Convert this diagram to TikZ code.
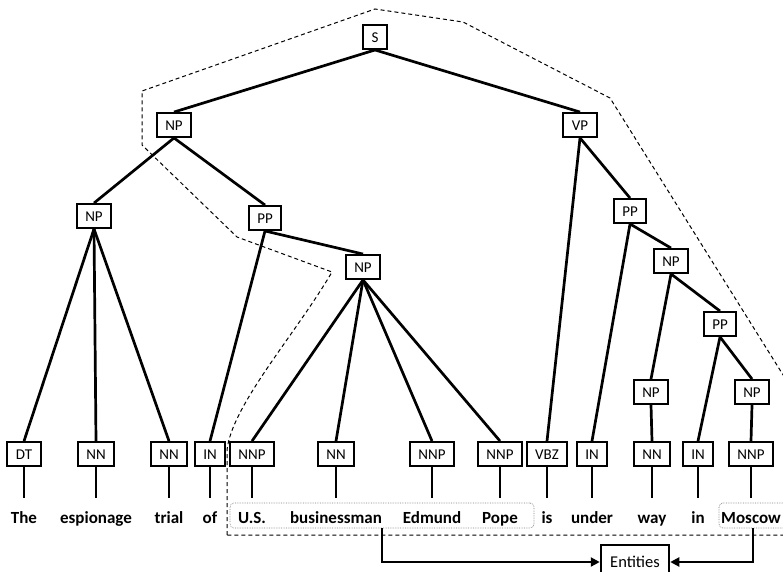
\documentclass[tikz,border=0pt]{standalone}
\usepackage{fontspec}
\setmainfont{Carlito}
\usetikzlibrary{arrows.meta}
\begin{document}
\begin{tikzpicture}[
x=1pt, y=-1pt,
tag/.style={draw, line width=1.9pt, inner xsep=8.5pt, inner ysep=0pt,
    minimum height=24pt, text height=10pt, text depth=0pt,
    font=\fontsize{15}{17}\selectfont},
word/.style={inner sep=0pt, anchor=base, text height=12pt, text depth=4pt,
    outer ysep=13pt, font=\bfseries\fontsize{17}{20}\selectfont},
edge/.style={line width=2.7pt},
entbox/.style={draw=gray, densely dotted, line width=0.7pt, rounded corners=4pt,
    minimum height=25pt},
arr/.style={line width=2.2pt, -{Triangle[length=9pt,width=9pt]}}
]
\useasboundingbox (0,0) rectangle (783,571);
\node[tag] (s) at (375,37) {S};
\node[tag] (np1) at (174,125) {NP};
\node[tag] (vp) at (580,125) {VP};
\node[tag] (np2) at (94,216) {NP};
\node[tag] (pp1) at (265,218) {PP};
\node[tag] (np3) at (363,267) {NP};
\node[tag] (pp2) at (630,211) {PP};
\node[tag] (np4) at (671,261) {NP};
\node[tag] (pp3) at (720,324) {PP};
\node[tag] (np5) at (651,392) {NP};
\node[tag] (np6) at (752,392) {NP};
\foreach \x/\t/\w [count=\i] in {24/DT/The, 96/NN/espionage, 169/NN/trial,
    210/IN/of, 252/NNP/U.S., 336/NN/businessman, 432/NNP/Edmund, 500/NNP/Pope,
    547/VBZ/is, 592/IN/under, 652/NN/way, 698/IN/in, 751/NNP/Moscow} {
    \node[tag] (t\i) at (\x,454) {\t};
    \node[word] (w\i) at (\x,523) {\w};
    \draw[edge] (t\i) -- (w\i);
}
\foreach \a/\b in {s/np1, s/vp, np1/np2, np1/pp1, np2/t1, np2/t2, np2/t3,
    pp1/t4, pp1/np3, np3/t5, np3/t6, np3/t7, np3/t8, vp/t9, vp/pp2,
    pp2/t10, pp2/np4, np4/np5, np4/pp3, np5/t11, pp3/t12, pp3/np6, np6/t13}
    \draw[edge] (\a.south) -- (\b.north);
\node[entbox, minimum width=304pt] (e1) at (382,515.5) {};
\node[entbox, minimum width=68pt] (e2) at (753,515.5) {};
\draw[line width=1pt, dash pattern=on 4pt off 3pt]
    (227,535) -- (227,450) .. controls (232,405) and (295,335) .. (332,272)
    -- (237,237) -- (142,145) -- (142,91) -- (375,9) -- (463,22) -- (610,98)
    -- (800,402) -- (800,535) -- cycle;
\node[draw, line width=1.9pt, inner xsep=9.5pt, minimum height=34pt,
    font=\fontsize{16.5}{18}\selectfont] (ent) at (635,562) {Entities};
\draw[arr] (e1.south) |- (ent.west);
\draw[arr] (e2.south) |- (ent.east);
\end{tikzpicture}
\end{document}
